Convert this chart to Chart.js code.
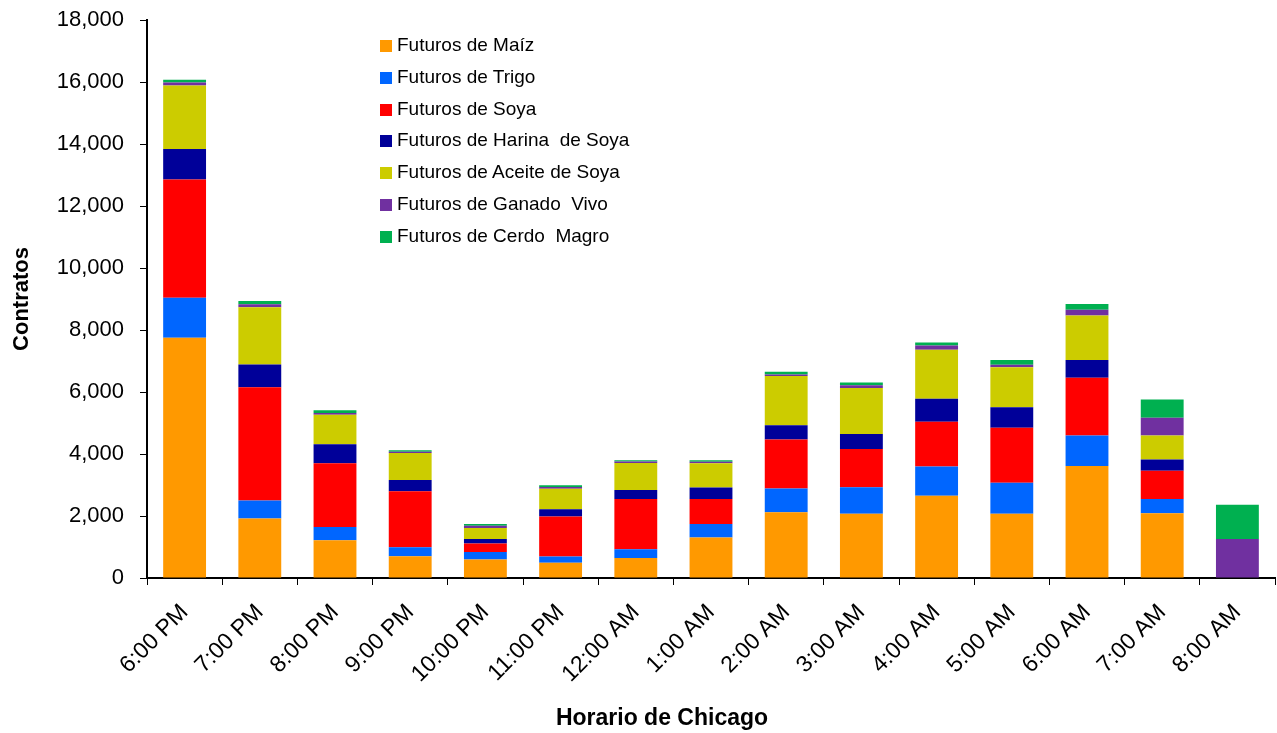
<!DOCTYPE html>
<html>
<head>
<meta charset="utf-8">
<script src="https://cdn.jsdelivr.net/npm/chart.js@4"></script>
<style>
  body { margin: 0; background: #fff; font-family: "Liberation Sans", Arial, sans-serif; }
  #wrap { position: relative; width: 1277px; height: 733px; }
  #legend { position: absolute; left: 380px; top: 29px; font-size: 19px; color: #000; }
  #legend div { height: 31.8px; line-height: 31.8px; white-space: pre; }
  #legend span { display: inline-block; width: 12px; height: 12px; margin-right: 5px; vertical-align: -1px; }
  #xtitle { position: absolute; left: 662px; top: 704px; transform: translateX(-50%); font-weight: bold; font-size: 23px; }
</style>
</head>
<body>
<div id="wrap">
  <canvas id="myChart"></canvas>
  <div id="legend"></div>
  <div id="xtitle">Horario de Chicago</div>
</div>
<script>
var labels = ['6:00 PM', '7:00 PM', '8:00 PM', '9:00 PM', '10:00 PM', '11:00 PM', '12:00 AM', '1:00 AM',
    '2:00 AM', '3:00 AM', '4:00 AM', '5:00 AM', '6:00 AM', '7:00 AM', '8:00 AM'];

var maiz   = [7750, 1920, 1215, 700, 600, 495, 645, 1310, 2120, 2075, 2655, 2075, 3610, 2085, 0];
var trigo  = [1290, 580, 430, 290, 235, 195, 280, 430, 765, 850, 945, 1000, 990, 460, 0];
var soya   = [3815, 3655, 2055, 1805, 280, 1290, 1625, 805, 1580, 1235, 1440, 1775, 1860, 915, 0];
var harina = [980, 730, 615, 365, 140, 235, 290, 375, 465, 485, 740, 655, 570, 365, 0];
var aceite = [2055, 1850, 955, 870, 355, 665, 870, 785, 1590, 1485, 1580, 1290, 1440, 775, 0];
var ganado = [95, 95, 55, 45, 75, 55, 45, 45, 45, 85, 140, 85, 185, 570, 1260];
var cerdo  = [85, 105, 85, 45, 55, 55, 45, 45, 85, 95, 95, 150, 185, 590, 1105];

var yTicks = [0, 2000, 4000, 6000, 8000, 10000, 12000, 14000, 16000, 18000];

var series = [
    { label: 'Futuros de Maíz', data: maiz, color: '#FF9900' },
    { label: 'Futuros de Trigo', data: trigo, color: '#0066FF' },
    { label: 'Futuros de Soya', data: soya, color: '#FF0000' },
    { label: 'Futuros de Harina  de Soya', data: harina, color: '#000099' },
    { label: 'Futuros de Aceite de Soya', data: aceite, color: '#CCCC00' },
    { label: 'Futuros de Ganado  Vivo', data: ganado, color: '#7030A0' },
    { label: 'Futuros de Cerdo  Magro', data: cerdo, color: '#00B050' }
];

// html legend, same order as the picture
var legend = document.getElementById('legend');
series.forEach(function (s) {
    var row = document.createElement('div');
    var box = document.createElement('span');
    box.style.background = s.color;
    row.appendChild(box);
    row.appendChild(document.createTextNode(s.label));
    legend.appendChild(row);
});

var font = { family: '"Liberation Sans", Arial, sans-serif', size: 22 };

var ctx = document.getElementById('myChart').getContext('2d');
var myChart = new Chart(ctx, {
    type: 'bar',
    data: {
        labels: labels,
        datasets: series.map(function (s) {
            return {
                label: s.label,
                data: s.data,
                backgroundColor: s.color,
                borderWidth: 0,
                barPercentage: 0.57,
                categoryPercentage: 1
            };
        })
    },
    options: {
        responsive: true,
        maintainAspectRatio: false,
        animation: false,
        events: [],
        layout: { padding: { top: 0, right: 2, left: 0, bottom: 0 } },
        plugins: {
            legend: { display: false },
            tooltip: { enabled: false }
        },
        scales: {
            x: {
                stacked: true,
                grid: { offset: true, drawOnChartArea: false, drawTicks: true, tickLength: 7, color: '#000', lineWidth: 1 },
                border: { color: '#000', width: 2 },
                ticks: { color: '#000', font: { family: font.family, size: 23 }, minRotation: 45, maxRotation: 45, padding: 14 },
                afterFit: function (axis) { axis.height = 155; }
            },
            y: {
                stacked: true,
                min: 0,
                max: 18000,
                afterBuildTicks: function (axis) {
                    axis.ticks = yTicks.map(function (v) { return { value: v }; });
                },
                grid: { drawOnChartArea: false, drawTicks: true, tickLength: 7, color: '#000', lineWidth: 1 },
                border: { color: '#000', width: 2 },
                ticks: { color: '#000', font: font, padding: 16 },
                title: {
                    display: true,
                    text: 'Contratos',
                    color: '#000',
                    font: { family: font.family, size: 22, weight: 'bold' },
                    padding: { top: 9, bottom: 0 }
                },
                afterFit: function (axis) {
                    axis.width = 147;
                    axis.paddingTop = 20;   // plot top sits at y=20 like the picture
                }
            }
        }
    }
});
</script>
</body>
</html>
